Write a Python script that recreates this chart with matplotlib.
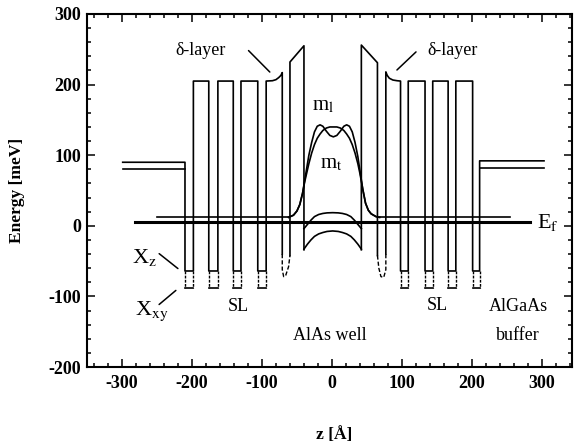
import matplotlib
matplotlib.use("Agg")
import matplotlib.pyplot as plt
from matplotlib.ticker import MultipleLocator

plt.rcParams['font.family'] = ['Liberation Serif', 'DejaVu Serif']
plt.rcParams['mathtext.fontset'] = 'stix'
plt.rcParams['axes.unicode_minus'] = False

# ---------------- data (z in Angstrom, E in meV) ----------------
# left part of the band profile: buffer -> SL -> delta layer
prof_left_z = [-299, -210, -210, -198, -198, -176, -176, -163, -163, -141, -141,
               -130, -130, -106, -106, -94, -94, -85, -80, -76, -73, -71, -71]
prof_left_E = [90, 90, -64, -64, 205, 205, -64, -64, 205, 205, -64,
               -64, 205, 205, -64, -64, 205, 205.5, 207, 210, 213, 217, -40]
# left big barrier next to the AlAs well
barL_z = [-60, -60, -40, -40]
barL_E = [-42, 232, 255, -34]
# right big barrier
barR_z = [42, 42, 65, 65]
barR_E = [-34, 256, 231, -42]
# right part: delta layer -> SL -> buffer
prof_right_z = [77, 77, 79, 82, 87, 93, 98, 98, 109, 109, 133, 133, 144, 144, 166,
                166, 177, 177, 201, 201, 211, 211, 303]
prof_right_E = [-40, 218, 213, 209, 206.5, 205.5, 205, -64, -64, 205, 205, -64, -64,
                205, 205, -64, -64, 205, 205, -64, -64, 92, 92]
# second (lower) buffer levels
buf2_left_z = [-299, -210]
buf2_left_E = [81, 81]
buf2_right_z = [211, 303]
buf2_right_E = [82, 82]
# X_xy dips in the SL wells
dips_z = [(-210, -198), (-176, -163), (-141, -130), (-106, -94),
          (98, 109), (133, 144), (166, 177), (201, 211)]
X_xy_level = -88
X_z_level = -64
# dashed X levels in the small wells beside the delta layers
swL_z = [-71, -71, -69, -66, -62, -60]
swL_E = [-40, -62, -72, -70, -58, -42]
swR_z = [65, 67, 70, 74, 77, 77]
swR_E = [-42, -60, -72, -73, -62, -40]
# X bands inside the AlAs well
arc_z = [-40, -35, -30, -25, -19, -13, -7, 1, 9, 15, 21, 27, 32, 37, 42]
arc_Xz_E = [-4, 2, 8, 13, 16, 17.5, 18.3, 18.6, 18.3, 17.5, 16, 13, 8, 2, -4]
arc_Xxy_E = [-33, -26, -20, -15, -11.5, -9.5, -8, -7.3, -8, -9.5, -11.5, -15, -20, -26, -33]
# wavefunctions (m_l and m_t)
wf_z = [-62, -55, -50, -46, -42, -39, -36, -33, -29, -25, -21, -17, -13, -8, -3, 2,
        7, 12, 17, 21, 25, 29, 33, 37, 40, 44, 48, 52, 56, 63, 68]
wf_ml_E = [12, 15, 21, 30, 46, 64, 82, 100, 118, 133, 141, 143, 141, 134, 128, 126,
           128, 134, 141, 143, 141, 133, 118, 98, 78, 52, 32, 22, 17, 13, 12]
wf_mt_E = [12, 15, 21, 30, 46, 62, 75, 88, 103, 115, 124, 130, 135, 138.5, 140, 140,
           140, 138.5, 135, 130, 124, 115, 103, 88, 74, 52, 32, 22, 17, 13, 12]
# horizontal levels near zero
lvl_z = [-250, -62, 68, 255]
lvl_E = 12
Ef_z = [-281, 283]
Ef_E = [5, 5]

xticks = [-300, -200, -100, 0, 100, 200, 300]
yticks = [-200, -100, 0, 100, 200, 300]

# ---------------- figure ----------------
fig = plt.figure(figsize=(5.74, 4.42), dpi=100)
ax = fig.add_axes([0.15157, 0.16968, 0.84495, 0.79865])
lc = 'black'
lw = 1.2

ax.plot(prof_left_z, prof_left_E, color=lc, lw=lw)
ax.plot(prof_right_z, prof_right_E, color=lc, lw=lw)
ax.plot(barL_z, barL_E, color=lc, lw=lw)
ax.plot(barR_z, barR_E, color=lc, lw=lw)
ax.plot(buf2_left_z, buf2_left_E, color=lc, lw=lw)
ax.plot(buf2_right_z, buf2_right_E, color=lc, lw=lw)
for z0, z1 in dips_z:
    ax.plot([z0, z0], [X_z_level, X_xy_level], color=lc, lw=1.0, ls=(0, (2, 1)))
    ax.plot([z1, z1], [X_z_level, X_xy_level], color=lc, lw=1.0, ls=(0, (2, 1)))
    ax.plot([z0, z1], [X_xy_level, X_xy_level], color=lc, lw=lw)
ax.plot(swL_z, swL_E, color=lc, lw=1.0, ls=(0, (3, 1.5)))
ax.plot(swR_z, swR_E, color=lc, lw=1.0, ls=(0, (3, 1.5)))
ax.plot(arc_z, arc_Xz_E, color=lc, lw=lw)
ax.plot(arc_z, arc_Xxy_E, color=lc, lw=lw)
ax.plot(wf_z, wf_ml_E, color=lc, lw=lw)
ax.plot(wf_z, wf_mt_E, color=lc, lw=lw)
ax.plot(lvl_z[:2], [lvl_E, lvl_E], color=lc, lw=lw)
ax.plot(lvl_z[2:], [lvl_E, lvl_E], color=lc, lw=lw)
ax.plot(Ef_z, Ef_E, color=lc, lw=2.2)

# labels
fs = 13
ax.text(-224, 248, 'δ-layer', fontsize=fs, ha='left', va='center')
ax.text(137, 249, 'δ-layer', fontsize=fs, ha='left', va='center')
ax.annotate('', xy=(-86, 215), xytext=(-122, 251),
            arrowprops=dict(arrowstyle='-', color=lc, lw=1.1))
ax.annotate('', xy=(90, 218), xytext=(123, 249),
            arrowprops=dict(arrowstyle='-', color=lc, lw=1.1))
ax.text(-28, 164, r'm$_\mathrm{l}$', fontsize=15, ha='left', va='baseline')
ax.text(-17, 82, r'm$_\mathrm{t}$', fontsize=15, ha='left', va='baseline')
ax.text(293, -3, r'E$_\mathrm{f}$', fontsize=16, ha='left', va='baseline')
ax.text(-286, -52, r'X$_\mathrm{z}$', fontsize=16, ha='left', va='baseline')
ax.text(-281, -126, r'X$_\mathrm{xy}$', fontsize=16, ha='left', va='baseline')
ax.annotate('', xy=(-217, -63), xytext=(-250, -37),
            arrowprops=dict(arrowstyle='-', color=lc, lw=1.1))
ax.annotate('', xy=(-220, -89), xytext=(-250, -114),
            arrowprops=dict(arrowstyle='-', color=lc, lw=1.1))
ax.text(-134, -121, 'SL', fontsize=fs, ha='center', va='baseline')
ax.text(150, -119, 'SL', fontsize=fs, ha='center', va='baseline')
ax.text(266, -120, 'AlGaAs', fontsize=fs, ha='center', va='baseline')
ax.text(266, -162, 'buffer', fontsize=fs, ha='center', va='baseline')
ax.text(-3, -162, 'AlAs well', fontsize=fs, ha='center', va='baseline')

# axes
ax.set_xlim(-350, 343)
ax.set_ylim(-200, 300)
ax.set_xticks(xticks)
ax.set_yticks(yticks)
ax.xaxis.set_minor_locator(MultipleLocator(20))
ax.yaxis.set_minor_locator(MultipleLocator(20))
ax.tick_params(which='both', direction='in', top=True, right=True, width=1.1)
ax.tick_params(which='major', length=6, labelsize=13, pad=6)
ax.tick_params(which='minor', length=3)
ax.tick_params(axis='y', which='major', pad=4)
for lab in ax.get_xticklabels() + ax.get_yticklabels():
    lab.set_fontweight('bold')
for sp in ax.spines.values():
    sp.set_linewidth(1.5)

ax.set_ylabel('Energy [meV]', fontsize=12.5, fontweight='bold')
ax.yaxis.set_label_coords(-0.128, 0.5)
ax.set_xlabel('z [Å]', fontsize=12.5, fontweight='bold')
ax.xaxis.set_label_coords(0.51, -0.17)

fig.savefig('out.png', dpi=100)
